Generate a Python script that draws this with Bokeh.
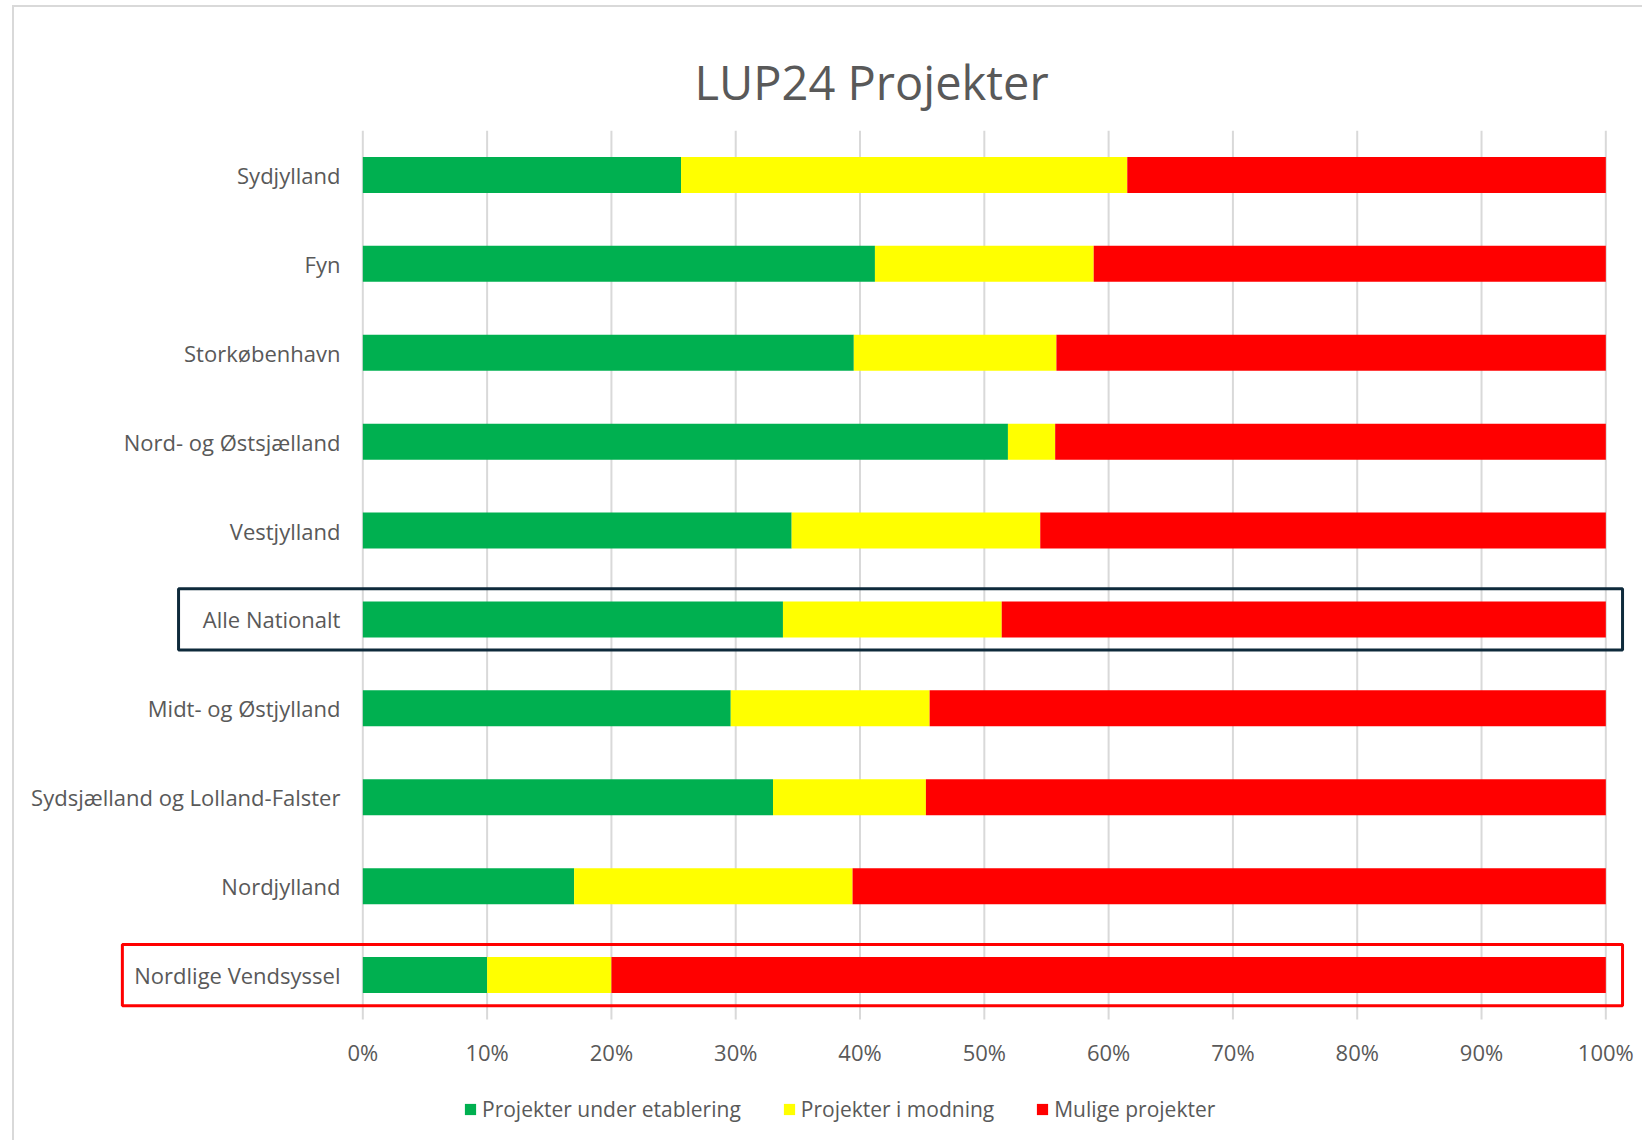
from bokeh.plotting import figure
from bokeh.models import ColumnDataSource, Range1d, FixedTicker, Legend
from bokeh.embed import file_html
from bokeh.resources import INLINE
from bokeh.core.properties import value

# ---------------- data ----------------
categories = [
    "Sydjylland",
    "Fyn",
    "Storkøbenhavn",
    "Nord- og Østsjælland",
    "Vestjylland",
    "Alle Nationalt",
    "Midt- og Østjylland",
    "Sydsjælland og Lolland-Falster",
    "Nordjylland",
    "Nordlige Vendsyssel",
]
under_etablering = [25.6, 41.2, 39.5, 51.9, 34.5, 33.8, 29.6, 33.0, 17.0, 10.0]
i_modning = [35.9, 17.6, 16.3, 3.8, 20.0, 17.6, 16.0, 12.3, 22.4, 10.0]
mulige = [38.5, 41.2, 44.2, 44.3, 45.5, 48.6, 54.4, 54.7, 60.6, 80.0]
series_names = ["Projekter under etablering", "Projekter i modning", "Mulige projekter"]
tick_values = [0, 10, 20, 30, 40, 50, 60, 70, 80, 90, 100]
tick_labels = ["0%", "10%", "20%", "30%", "40%", "50%", "60%", "70%", "80%", "90%", "100%"]
title_text = "LUP24 Projekter"
highlight_dark = "Alle Nationalt"
highlight_red = "Nordlige Vendsyssel"

# ---------------- styling ----------------
FONT = "Open Sans"
TXT = "#595959"
GRID = "#d9d9d9"
colors = ["#00B050", "#FFFF00", "#FF0000"]

n = len(categories)
ypos = [n - 1 - i for i in range(n)]          # first category on top
ypos_of = dict(zip(categories, ypos))
band_lo, band_hi = -0.5, n - 0.5               # extent of the category bands

source = ColumnDataSource(dict(cat=categories, y=ypos, s0=under_etablering, s1=i_modning, s2=mulige))

p = figure(
    frame_width=1620, frame_height=1010,
    y_range=Range1d(band_lo - 1.361, band_hi),
    x_range=Range1d(-27.54, 102.79),
    output_backend="svg", toolbar_location=None,
    min_border_left=6, min_border_right=2, min_border_top=123, min_border_bottom=0,
)
p.outline_line_color = None
p.background_fill_color = "white"
p.border_fill_color = "white"
p.styles = {"margin-left": "12px", "margin-top": "5px",
            "border-left": "2px solid #d9d9d9", "border-top": "2px solid #d9d9d9"}

p.title.text = title_text
p.title.align = "left"
p.title.offset = 674
p.title.standoff = 34
p.title.text_font = FONT
p.title.text_font_size = "47px"
p.title.text_font_style = "normal"
p.title.text_color = TXT

# vertical gridlines only over the category area
p.xgrid.visible = False
p.ygrid.visible = False
p.segment(x0=tick_values, x1=tick_values, y0=band_lo, y1=band_hi,
          line_color=GRID, line_width=2)

renderers = p.hbar_stack(["s0", "s1", "s2"], y="y", height=0.405, color=colors,
                         source=source, line_color=None)

# axes
p.yaxis.visible = False
p.xaxis.fixed_location = band_lo
p.xaxis.ticker = FixedTicker(ticks=tick_values)
p.xaxis.major_label_overrides = {v: l for v, l in zip(tick_values, tick_labels)}
p.xaxis.axis_line_color = None
p.xaxis.major_tick_line_color = None
p.xaxis.minor_tick_line_color = None
p.xaxis.major_label_standoff = 11
p.xaxis.major_label_text_font = FONT
p.xaxis.major_label_text_font_size = "22px"
p.xaxis.major_label_text_color = TXT

# category labels
p.text(x=-1.8, y=ypos, text=categories, text_align="right", text_baseline="middle",
       text_font=value(FONT), text_font_size="22px", text_color=TXT)

# highlight frames
p.rect(x=43.26, y=[ypos_of[highlight_dark]], width=116.17, height=0.69,
       fill_color=None, line_color="#0e2a3b", line_width=3)
p.rect(x=41.0, y=[ypos_of[highlight_red]], width=120.69, height=0.69,
       fill_color=None, line_color="#FF0000", line_width=3)

legend = Legend(items=[(nm, [r]) for nm, r in zip(series_names, renderers)],
                orientation="horizontal", location=(443, 17))
legend.label_text_font = FONT
legend.label_text_font_size = "21px"
legend.label_text_color = TXT
legend.glyph_width = 14
legend.glyph_height = 14
legend.label_standoff = 5
legend.spacing = 41
legend.border_line_color = None
legend.background_fill_alpha = 0
legend.margin = 0
legend.padding = 5
p.add_layout(legend)

open("out.html", "w").write(file_html(p, INLINE))
